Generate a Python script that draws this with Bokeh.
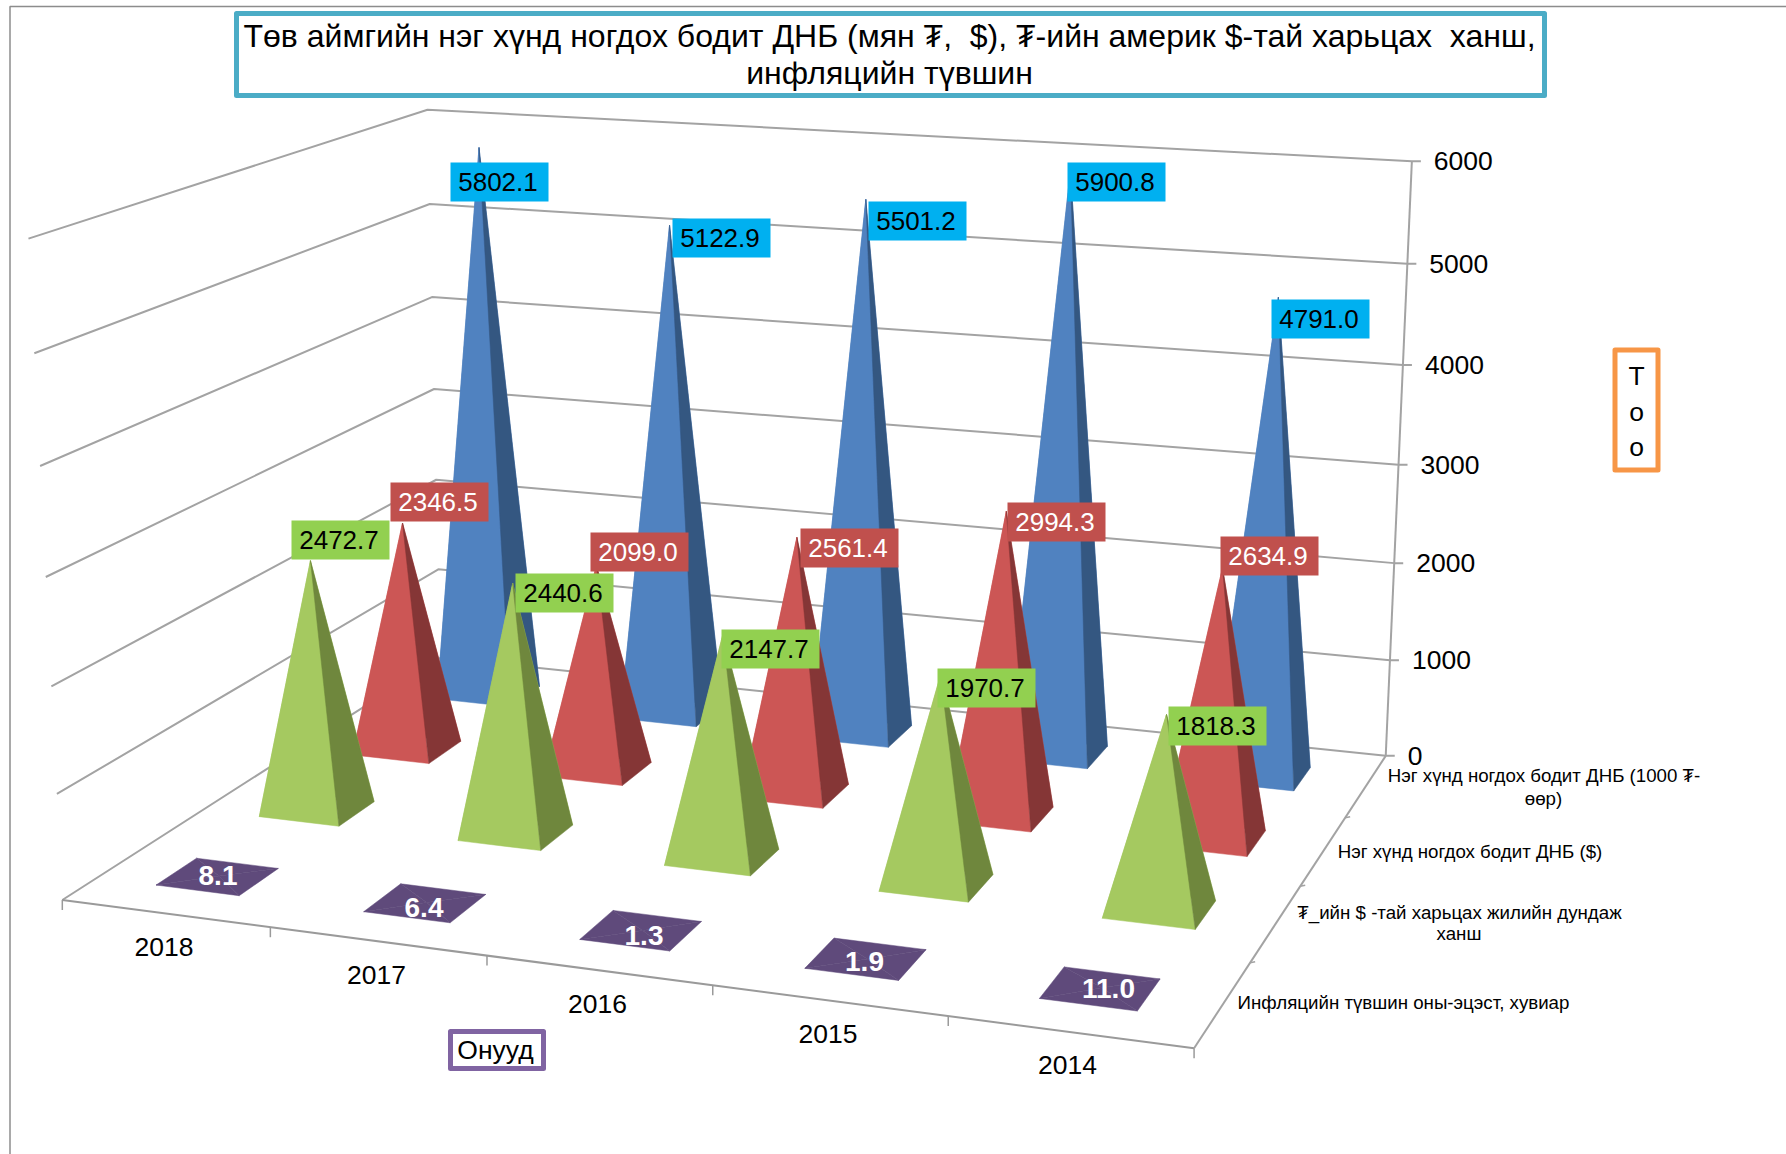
import numpy as np
from bokeh.plotting import figure
from bokeh.embed import file_html
from bokeh.resources import INLINE
from bokeh.core.properties import value

# ---- data ----
years = ["2018", "2017", "2016", "2015", "2014"]
gdp_mnt = [5802.1, 5122.9, 5501.2, 5900.8, 4791.0]
gdp_usd = [2346.5, 2099.0, 2561.4, 2994.3, 2634.9]
rate = [2472.7, 2440.6, 2147.7, 1970.7, 1818.3]
inflation = [8.1, 6.4, 1.3, 1.9, 11.0]
value_ticks = [0, 1000, 2000, 3000, 4000, 5000, 6000]

# ---- layout ----
W, H = 1786, 1154
FONT = value("Liberation Sans")
GRID = "#a3a3a3"

# camera calibration: (category pos, series pos, value) -> page pixel
calib = [
    (0,0,0,61.5,899),(1,0,0,269,927),(2,0,0,486,956),(3,0,0,711,985),(4,0,0,947,1015),(5,0,0,1192,1046),
    (5,1,0,1252,962),(5,2,0,1302,885),(5,3,0,1347,817),(5,4,0,1384.5,757),
    (5,4,1000,1388,660),(5,4,2000,1391,563),(5,4,3000,1397,464.5),(5,4,4000,1403,364),(5,4,5000,1408,263.5),(5,4,6000,1412,161),
    (0,4,0,442,656),(0,4,1000,439,569),(0,4,2000,436,480),(0,4,3000,433,389),(0,4,4000,430,296),(0,4,5000,428,203),(0,4,6000,427,108.6),
    (0,0,1000,56,794),(0,0,2000,50,686),(0,0,3000,45.5,577),(0,0,4000,40,466),(0,0,5000,34,353),(0,0,6000,30,238),
]
A, b = [], []
for u, v, w, x, y in calib:
    w = w / 1000
    A.append([u, v, w, 1, 0, 0, 0, 0, -x*u, -x*v, -x*w]); b.append(x)
    A.append([0, 0, 0, 0, u, v, w, 1, -y*u, -y*v, -y*w]); b.append(y)
cam = np.linalg.lstsq(np.array(A), np.array(b), rcond=None)[0]
P = np.append(cam, 1.0).reshape(3, 4)

def proj(u, v, w):
    h = P @ np.array([u, v, w / 1000, 1.0])
    return float(h[0] / h[2]), float(h[1] / h[2])

p = figure(width=W, height=H, x_range=(0, W), y_range=(H, 0),
           output_backend="svg", toolbar_location=None, min_border=0,
           outline_line_color=None, background_fill_color="white")
p.axis.visible = False
p.grid.visible = False

# chart frame
p.line([9.5, 9.5, W], [H, 6, 6], line_color="#8c8c8c", line_width=1.5)

# walls and floor
def seg(a, b, color=GRID, width=2):
    p.line([a[0], b[0]], [a[1], b[1]], line_color=color, line_width=width)

for t in value_ticks:
    fl, bl, br = proj(0, 0, t), proj(0, 4, t), proj(5, 4, t)
    p.line([fl[0], bl[0], br[0], br[0] + 9], [fl[1], bl[1], br[1], br[1]], line_color=GRID, line_width=2)
seg(proj(5, 4, 0), proj(5, 4, 6000))
seg(proj(0, 0, 0), proj(5, 0, 0), "#9a9a9a")
seg(proj(5, 0, 0), proj(5, 4, 0))
for i in range(6):
    x, y = proj(i, 0, 0)
    seg((x, y), (x, y + 10), "#9a9a9a", 1.5)
for j in range(1, 4):
    x, y = proj(5, j, 0)
    seg((x, y), (x + 5, y - 1), GRID, 1.5)

# pyramids, back row first
HU_L, HU_R, HV = 0.21, 0.195, 0.19
rows = [
    (3.5, gdp_mnt, "#5082C0", "#345781"),
    (2.5, gdp_usd, "#CC5655", "#853636"),
    (1.5, rate, "#A5C960", "#6F873D"),
    (0.5, inflation, "#5F4A7B", "#5F4A7B"),
]
for vc, vals, light, dark in rows:
    for i, val in enumerate(vals):
        uc = i + 0.5
        apex = proj(uc, vc, val)
        fl = proj(uc - HU_L, vc - HV, 0)
        fr = proj(uc + HU_R, vc - HV, 0)
        br = proj(uc + HU_R, vc + HV, 0)
        bl = proj(uc - HU_L, vc + HV, 0)
        for face, col in (((bl, br), light), ((fl, bl), light), ((fl, fr), light), ((fr, br), dark)):
            p.patch([apex[0], face[0][0], face[1][0]], [apex[1], face[0][1], face[1][1]],
                    fill_color=col, line_color=col, line_width=0.5)

# data-label placement (box top-left corners on the page)
BOX_W, BOX_H = 98, 39
label_sets = [
    (gdp_mnt, [(450,162),(672,218),(868,201),(1067,162),(1271,299)], "#00B0F0", "black"),
    (gdp_usd, [(390,482),(590,532),(800,528),(1007,502),(1220,536)], "#C0504D", "white"),
    (rate, [(291,520),(515,573),(721,629),(937,668),(1168,706)], "#92D050", "black"),
]
for vals, corners, fill, txt in label_sets:
    xs = [c[0] for c in corners]
    ys = [c[1] for c in corners]
    p.quad(left=xs, right=[x + BOX_W for x in xs], top=ys, bottom=[y + BOX_H for y in ys],
           fill_color=fill, line_color=None)
    p.text([x + BOX_W / 2 - 1.5 for x in xs], [y + BOX_H / 2 for y in ys], text=[f"{v:.1f}" for v in vals],
           text_font=FONT, text_font_size="26px", text_color=txt, text_align="center", text_baseline="middle")

infl_pos = [(217.5, 875), (423.5, 907), (643.5, 934.5), (864, 960.5), (1108, 988)]
p.text([c[0] for c in infl_pos], [c[1] for c in infl_pos], text=[f"{v:.1f}" for v in inflation],
       text_font=FONT, text_font_style="bold", text_font_size="28px", text_color="white",
       text_align="center", text_baseline="middle")

def label(x, y, s, size="26.5px", align="center"):
    p.text([x], [y], text=[s], text_font=FONT, text_font_size=size, text_color="black",
           text_align=align, text_baseline="middle")

# axis labels
for t in value_ticks:
    x, y = proj(5, 4, t)
    label(x + 22, y, str(t), align="left")
year_pos = [(163.5, 946), (376, 974), (597, 1003), (827.5, 1033.5), (1067, 1064)]
for (x, y), s in zip(year_pos, years):
    label(x, y, s)
series_lines = [
    (1543.5, 775, "Нэг хүнд ногдох бодит ДНБ (1000 ₮-"),
    (1543, 797.5, "өөр)"),
    (1469.5, 851, "Нэг хүнд ногдох бодит ДНБ ($)"),
    (1459, 912, "₮_ийн $ -тай харьцах жилийн дундаж"),
    (1458.5, 933, "ханш"),
    (1403, 1002, "Инфляцийн түвшин оны-эцэст, хувиар"),
]
for x, y, s in series_lines:
    label(x, y, s, size="18.7px")

# titled boxes
def box(l, r, t, bt, color):
    p.quad(left=[l], right=[r], top=[t], bottom=[bt], fill_color="white",
           line_color=color, line_width=5, line_join="round")

box(236, 1544, 13, 95, "#4BACC6")
label(889, 35.5, "Төв аймгийн нэг хүнд ногдох бодит ДНБ (мян ₮,\u00a0 $), ₮-ийн америк $-тай харьцах\u00a0 ханш,", size="32px")
label(889, 72.5, "инфляцийн түвшин", size="32px")
box(450, 543, 1031, 1068, "#8064A2")
label(495, 1049, "Онууд")
box(1614.5, 1657.5, 349.5, 469.5, "#F79646")
for y, s in zip((375, 411, 446.5), "Тоо"):
    label(1636, y, s)

open("out.html", "w").write(file_html(p, INLINE))
